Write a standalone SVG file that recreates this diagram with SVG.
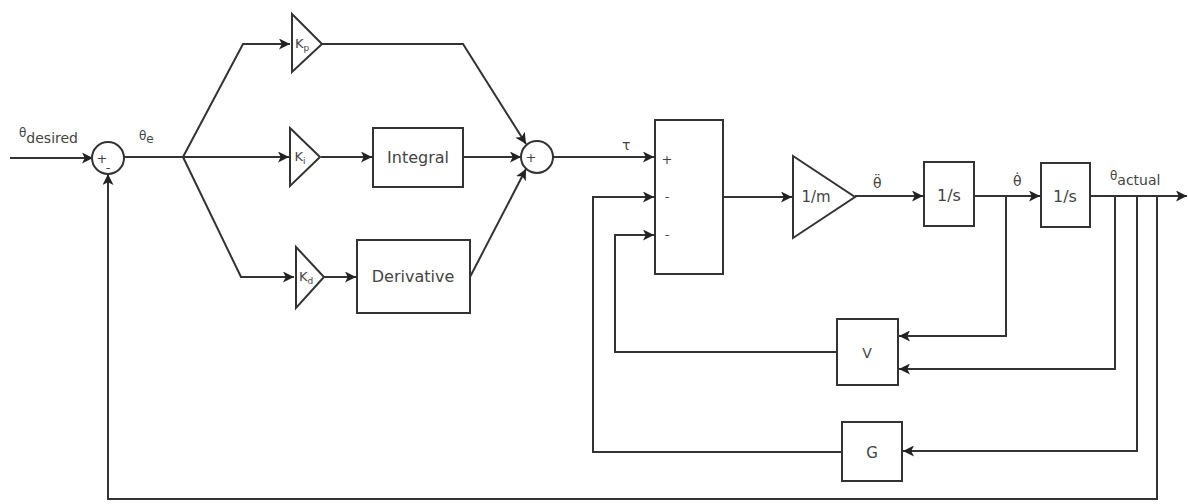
<svg xmlns="http://www.w3.org/2000/svg" width="1188" height="504" viewBox="0 0 1188 504">
<defs>
<marker id="arr" viewBox="0 0 10 10" refX="10" refY="5" markerWidth="11" markerHeight="11" markerUnits="userSpaceOnUse" orient="auto">
<path d="M0,0 L10,5 L0,10 L2.5,5 Z" fill="#222"/>
</marker>
<style>
.b{fill:#fff;stroke:#333;stroke-width:2}
.w{fill:none;stroke:#333;stroke-width:2}
.a{fill:none;stroke:#333;stroke-width:2;marker-end:url(#arr)}
text{font-family:"DejaVu Sans","Liberation Sans",sans-serif;fill:#444}
.t{font-size:16px;text-anchor:middle}
.s{font-size:13px;text-anchor:middle}
.k{font-size:13px;text-anchor:middle}
.l{font-size:13px}
</style>
</defs>
<rect width="1188" height="504" fill="#fff"/>
<g id="connectors">
<path class="a" d="M10,158 L93,158"/>
<path class="w" d="M124,157 L183,157"/>
<path class="a" d="M183,157 L243,44 L290,44"/>
<path class="a" d="M183,157 L289,157"/>
<path class="a" d="M183,157 L241,277 L294,277"/>
<path class="a" d="M321,157 L372,157"/>
<path class="a" d="M324,277 L356,277"/>
<path class="a" d="M322,44 L463,44 L526,144"/>
<path class="a" d="M463,157 L521,157"/>
<path class="a" d="M470,277 L526,169"/>
<path class="a" d="M553,157 L654,157"/>
<path class="a" d="M723,197 L792,197"/>
<path class="a" d="M855,196 L923,196"/>
<path class="a" d="M974,196 L1040,196"/>
<path class="a" d="M1090,196 L1187,196"/>
<path class="a" d="M1006,196 L1006,336 L899,336"/>
<path class="a" d="M1115,196 L1115,369 L899,369"/>
<path class="a" d="M1137,196 L1137,451 L903,451"/>
<path class="a" d="M837,352 L615,352 L615,235 L654,235"/>
<path class="a" d="M842,452 L593,452 L593,197 L654,197"/>
<path class="a" d="M1157,196 L1157,499 L108,499 L108,174"/>
</g>
<g id="sum1">
<circle class="b" cx="108" cy="158" r="16"/>
<text class="s" x="102" y="163">+</text>
<text class="s" x="108" y="172">-</text>
</g>
<g id="kp">
<polygon class="b" points="292,14 322,44 292,72"/>
<text class="k" x="302" y="48">K<tspan font-size="9" dy="3">p</tspan></text>
</g>
<g id="ki">
<polygon class="b" points="290,128 320,157 290,186"/>
<text class="k" x="300" y="161">K<tspan font-size="9" dy="3">i</tspan></text>
</g>
<g id="kd">
<polygon class="b" points="296,247 324,277 296,308"/>
<text class="k" x="306" y="281">K<tspan font-size="9" dy="3">d</tspan></text>
</g>
<g id="integral">
<rect class="b" x="373" y="128" width="90" height="59"/>
<text class="t" x="418" y="163">Integral</text>
</g>
<g id="derivative">
<rect class="b" x="357" y="240" width="113" height="73"/>
<text class="t" x="413" y="282">Derivative</text>
</g>
<g id="sum2">
<circle class="b" cx="537" cy="157" r="16"/>
<text class="s" x="531" y="162">+</text>
</g>
<g id="sumbox">
<rect class="b" x="655" y="120" width="68" height="154"/>
<text class="s" x="667" y="164">+</text>
<text class="s" x="667" y="201">-</text>
<text class="s" x="667" y="239">-</text>
</g>
<g id="invm">
<polygon class="b" points="793,156 855,197 793,238"/>
<text class="t" x="816" y="202" style="font-size:15px">1/m</text>
</g>
<g id="int1">
<rect class="b" x="924" y="162" width="50" height="64"/>
<text class="t" x="949" y="201">1/s</text>
</g>
<g id="int2">
<rect class="b" x="1041" y="163" width="49" height="64"/>
<text class="t" x="1065" y="202">1/s</text>
</g>
<g id="V">
<rect class="b" x="837" y="319" width="61" height="66"/>
<text class="t" x="867" y="358" style="font-size:14px">V</text>
</g>
<g id="G">
<rect class="b" x="842" y="422" width="60" height="59"/>
<text class="t" x="872" y="458" style="font-size:15px">G</text>
</g>
<g id="labels">
<text class="l" x="19" y="137" style="font-size:12px">θ<tspan dy="6" font-size="14">desired</tspan></text>
<text class="l" x="139" y="140" style="font-size:12px">θ<tspan dy="3" font-size="12">e</tspan></text>
<text class="l" x="622" y="150" style="font-size:14px">τ</text>
<text class="l" x="873" y="188" style="font-size:14px">&#952;&#776;</text>
<text class="l" x="1013" y="186" style="font-size:14px">&#952;&#775;</text>
<text class="l" x="1110" y="180" style="font-size:12px">θ<tspan dy="5" font-size="14">actual</tspan></text>
</g>
</svg>
